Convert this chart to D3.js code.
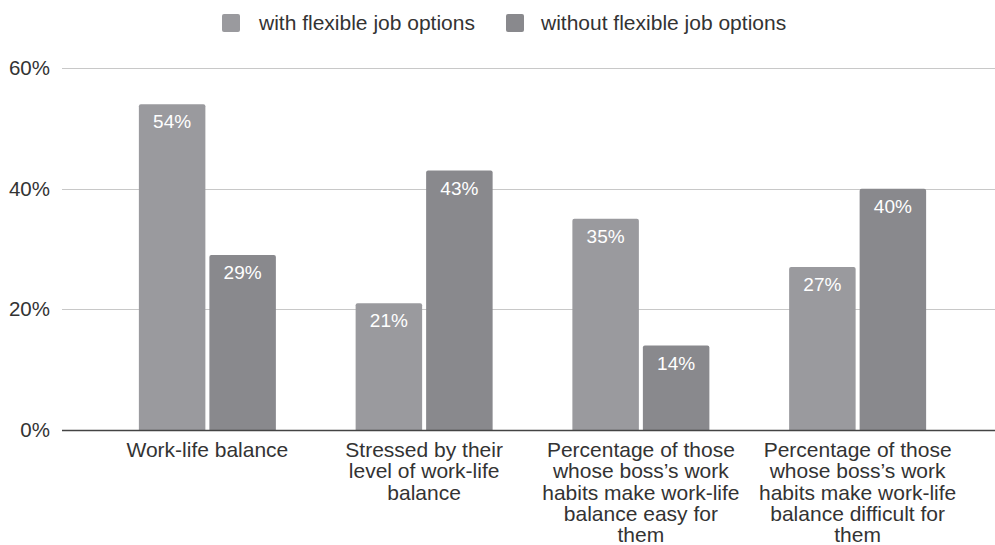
<!DOCTYPE html>
<html><head><meta charset="utf-8">
<script src="https://cdn.jsdelivr.net/npm/d3@7"></script>
<style>body{margin:0;background:#fff}svg{display:block}</style>
</head><body>
<svg id="c" width="995" height="545"></svg>
<script>
const categories = [
  ["Work-life balance"],
  ["Stressed by their", "level of work-life", "balance"],
  ["Percentage of those", "whose boss\u2019s work", "habits make work-life", "balance easy for", "them"],
  ["Percentage of those", "whose boss\u2019s work", "habits make work-life", "balance difficult for", "them"]
];
const seriesNames = ["with flexible job options", "without flexible job options"];
const withFlexible = [54, 21, 35, 27];
const withoutFlexible = [29, 43, 14, 40];
const yTicks = [0, 20, 40, 60];
const colors = ["#9a9a9e", "#89898d"];

const svg = d3.select("#c");
const font = "'Liberation Sans', Arial, sans-serif";
const plotL = 62, plotR = 995;
const x0 = d3.scaleBand().domain(d3.range(categories.length)).range([99, 966]).paddingInner(0).paddingOuter(0);
const y = d3.scaleLinear().domain([0, 60]).range([430, 68]);
const barW = 66.5, gap = 4;

// gridlines
svg.append("g").selectAll("line").data(yTicks.filter(d => d > 0)).join("line")
  .attr("x1", plotL).attr("x2", plotR)
  .attr("y1", d => Math.round(y(d)) + 0.5).attr("y2", d => Math.round(y(d)) + 0.5)
  .attr("stroke", "#c8c8c8").attr("stroke-width", 1);

// y labels
svg.append("g").selectAll("text").data(yTicks).join("text")
  .attr("x", 50).attr("y", d => y(d) + 7)
  .attr("text-anchor", "end").attr("font-family", font).attr("font-size", 20.5).attr("fill", "#333")
  .text(d => d + "%");

const series = [withFlexible, withoutFlexible];
series.forEach((vals, si) => {
  const g = svg.append("g");
  vals.forEach((v, i) => {
    const cx = x0(i) + x0.bandwidth() / 2;
    const bx = si === 0 ? cx - gap / 2 - barW : cx + gap / 2;
    const top = y(v);
    g.append("path")
      .attr("d", `M${bx},${y(0)} V${top + 2} Q${bx},${top} ${bx + 2},${top} H${bx + barW - 2} Q${bx + barW},${top} ${bx + barW},${top + 2} V${y(0)} Z`)
      .attr("fill", colors[si]);
    g.append("text")
      .attr("x", bx + barW / 2).attr("y", top + 24)
      .attr("text-anchor", "middle").attr("font-family", font).attr("font-size", 19)
      .attr("fill", "#fff").text(v + "%");
  });
});

// baseline
svg.append("line").attr("x1", plotL).attr("x2", plotR)
  .attr("y1", y(0) + 0.5).attr("y2", y(0) + 0.5).attr("stroke", "#444").attr("stroke-width", 1.5);

// category labels
categories.forEach((lines, i) => {
  const cx = x0(i) + x0.bandwidth() / 2;
  const t = svg.append("text").attr("text-anchor", "middle").attr("font-family", font)
    .attr("font-size", 21).attr("fill", "#333");
  lines.forEach((ln, j) => {
    t.append("tspan").attr("x", cx).attr("y", 457 + j * 21.3).text(ln);
  });
});

// legend
const legend = [{x: 222, tx: 259}, {x: 506, tx: 541}];
legend.forEach((l, i) => {
  svg.append("rect").attr("x", l.x).attr("y", 14).attr("width", 18).attr("height", 18)
    .attr("rx", 2).attr("fill", colors[i]);
  svg.append("text").attr("x", l.tx).attr("y", 30).attr("font-family", font)
    .attr("font-size", 21).attr("fill", "#333").text(seriesNames[i]);
});
</script>
</body></html>
